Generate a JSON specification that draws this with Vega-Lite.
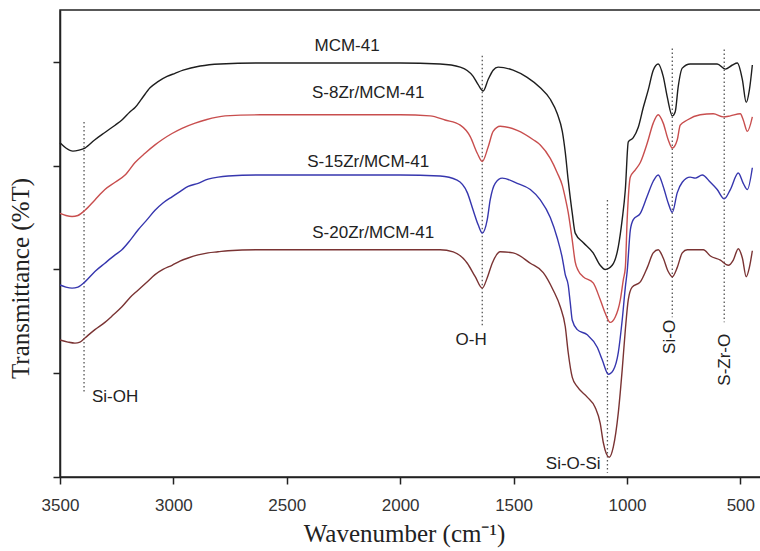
{
  "$schema": "https://vega.github.io/schema/vega-lite/v6.json",
  "width": 703,
  "height": 467,
  "autosize": "none",
  "padding": {"left": 60, "top": 10, "right": 0, "bottom": 74},
  "background": "white",
  "config": {
    "view": {"stroke": "#222", "strokeWidth": 1.5},
    "axis": {"grid": false, "domainColor": "#222", "domainWidth": 1.5, "tickColor": "#222", "tickWidth": 1.5, "tickSize": 7, "labelFont": "Liberation Sans", "labelFontSize": 17, "labelColor": "#333", "titleFont": "Liberation Serif", "titleFontSize": 25, "titleFontWeight": "normal", "titleColor": "#222"}
  },
  "datasets": {
    "spec": [
      {"s":"MCM-41","w":3500,"t":3.22},{"s":"MCM-41","w":3474,"t":3.17},{"s":"MCM-41","w":3443,"t":3.14},{"s":"MCM-41","w":3416,"t":3.15},{"s":"MCM-41","w":3390,"t":3.17},{"s":"MCM-41","w":3346,"t":3.25},{"s":"MCM-41","w":3302,"t":3.32},{"s":"MCM-41","w":3257,"t":3.39},{"s":"MCM-41","w":3227,"t":3.44},{"s":"MCM-41","w":3191,"t":3.52},{"s":"MCM-41","w":3169,"t":3.56},{"s":"MCM-41","w":3138,"t":3.65},{"s":"MCM-41","w":3103,"t":3.75},{"s":"MCM-41","w":3068,"t":3.81},{"s":"MCM-41","w":3028,"t":3.86},{"s":"MCM-41","w":2993,"t":3.89},{"s":"MCM-41","w":2957,"t":3.92},{"s":"MCM-41","w":2882,"t":3.96},{"s":"MCM-41","w":2794,"t":3.98},{"s":"MCM-41","w":2618,"t":3.99},{"s":"MCM-41","w":2441,"t":3.99},{"s":"MCM-41","w":2221,"t":3.99},{"s":"MCM-41","w":2000,"t":3.99},{"s":"MCM-41","w":1824,"t":3.98},{"s":"MCM-41","w":1735,"t":3.95},{"s":"MCM-41","w":1678,"t":3.86},{"s":"MCM-41","w":1656,"t":3.78},{"s":"MCM-41","w":1634,"t":3.72},{"s":"MCM-41","w":1612,"t":3.83},{"s":"MCM-41","w":1590,"t":3.92},{"s":"MCM-41","w":1568,"t":3.95},{"s":"MCM-41","w":1502,"t":3.92},{"s":"MCM-41","w":1440,"t":3.85},{"s":"MCM-41","w":1382,"t":3.75},{"s":"MCM-41","w":1338,"t":3.64},{"s":"MCM-41","w":1307,"t":3.5},{"s":"MCM-41","w":1285,"t":3.33},{"s":"MCM-41","w":1272,"t":3.13},{"s":"MCM-41","w":1259,"t":2.86},{"s":"MCM-41","w":1241,"t":2.54},{"s":"MCM-41","w":1228,"t":2.35},{"s":"MCM-41","w":1193,"t":2.26},{"s":"MCM-41","w":1149,"t":2.16},{"s":"MCM-41","w":1118,"t":2.04},{"s":"MCM-41","w":1096,"t":2.0},{"s":"MCM-41","w":1065,"t":2.04},{"s":"MCM-41","w":1038,"t":2.22},{"s":"MCM-41","w":1021,"t":2.48},{"s":"MCM-41","w":1007,"t":2.77},{"s":"MCM-41","w":994,"t":3.23},{"s":"MCM-41","w":972,"t":3.27},{"s":"MCM-41","w":950,"t":3.37},{"s":"MCM-41","w":928,"t":3.56},{"s":"MCM-41","w":906,"t":3.73},{"s":"MCM-41","w":884,"t":3.92},{"s":"MCM-41","w":862,"t":3.98},{"s":"MCM-41","w":840,"t":3.86},{"s":"MCM-41","w":822,"t":3.66},{"s":"MCM-41","w":800,"t":3.48},{"s":"MCM-41","w":787,"t":3.52},{"s":"MCM-41","w":774,"t":3.76},{"s":"MCM-41","w":756,"t":3.94},{"s":"MCM-41","w":721,"t":3.98},{"s":"MCM-41","w":602,"t":3.98},{"s":"MCM-41","w":566,"t":3.93},{"s":"MCM-41","w":535,"t":3.97},{"s":"MCM-41","w":513,"t":3.99},{"s":"MCM-41","w":491,"t":3.83},{"s":"MCM-41","w":474,"t":3.61},{"s":"MCM-41","w":460,"t":3.73},{"s":"MCM-41","w":447,"t":3.97},

      {"s":"S-8Zr","w":3500,"t":2.54},{"s":"S-8Zr","w":3474,"t":2.52},{"s":"S-8Zr","w":3447,"t":2.51},{"s":"S-8Zr","w":3421,"t":2.52},{"s":"S-8Zr","w":3390,"t":2.57},{"s":"S-8Zr","w":3346,"t":2.67},{"s":"S-8Zr","w":3302,"t":2.77},{"s":"S-8Zr","w":3257,"t":2.84},{"s":"S-8Zr","w":3213,"t":2.91},{"s":"S-8Zr","w":3169,"t":3.03},{"s":"S-8Zr","w":3125,"t":3.12},{"s":"S-8Zr","w":3081,"t":3.2},{"s":"S-8Zr","w":3050,"t":3.25},{"s":"S-8Zr","w":3006,"t":3.31},{"s":"S-8Zr","w":2962,"t":3.36},{"s":"S-8Zr","w":2904,"t":3.41},{"s":"S-8Zr","w":2860,"t":3.44},{"s":"S-8Zr","w":2772,"t":3.48},{"s":"S-8Zr","w":2618,"t":3.49},{"s":"S-8Zr","w":2441,"t":3.49},{"s":"S-8Zr","w":2000,"t":3.49},{"s":"S-8Zr","w":1868,"t":3.48},{"s":"S-8Zr","w":1802,"t":3.44},{"s":"S-8Zr","w":1735,"t":3.39},{"s":"S-8Zr","w":1691,"t":3.28},{"s":"S-8Zr","w":1660,"t":3.12},{"s":"S-8Zr","w":1638,"t":3.04},{"s":"S-8Zr","w":1612,"t":3.18},{"s":"S-8Zr","w":1590,"t":3.33},{"s":"S-8Zr","w":1559,"t":3.38},{"s":"S-8Zr","w":1484,"t":3.34},{"s":"S-8Zr","w":1413,"t":3.25},{"s":"S-8Zr","w":1382,"t":3.2},{"s":"S-8Zr","w":1338,"t":3.07},{"s":"S-8Zr","w":1307,"t":2.93},{"s":"S-8Zr","w":1285,"t":2.81},{"s":"S-8Zr","w":1272,"t":2.69},{"s":"S-8Zr","w":1259,"t":2.55},{"s":"S-8Zr","w":1241,"t":2.28},{"s":"S-8Zr","w":1228,"t":2.07},{"s":"S-8Zr","w":1215,"t":1.99},{"s":"S-8Zr","w":1193,"t":1.93},{"s":"S-8Zr","w":1149,"t":1.87},{"s":"S-8Zr","w":1118,"t":1.71},{"s":"S-8Zr","w":1096,"t":1.58},{"s":"S-8Zr","w":1074,"t":1.49},{"s":"S-8Zr","w":1052,"t":1.54},{"s":"S-8Zr","w":1029,"t":1.71},{"s":"S-8Zr","w":1016,"t":1.9},{"s":"S-8Zr","w":1007,"t":2.02},{"s":"S-8Zr","w":999,"t":2.48},{"s":"S-8Zr","w":985,"t":2.89},{"s":"S-8Zr","w":963,"t":2.96},{"s":"S-8Zr","w":941,"t":3.03},{"s":"S-8Zr","w":910,"t":3.22},{"s":"S-8Zr","w":884,"t":3.41},{"s":"S-8Zr","w":862,"t":3.49},{"s":"S-8Zr","w":840,"t":3.41},{"s":"S-8Zr","w":818,"t":3.25},{"s":"S-8Zr","w":800,"t":3.17},{"s":"S-8Zr","w":778,"t":3.25},{"s":"S-8Zr","w":765,"t":3.39},{"s":"S-8Zr","w":734,"t":3.44},{"s":"S-8Zr","w":677,"t":3.49},{"s":"S-8Zr","w":619,"t":3.5},{"s":"S-8Zr","w":575,"t":3.47},{"s":"S-8Zr","w":544,"t":3.48},{"s":"S-8Zr","w":500,"t":3.5},{"s":"S-8Zr","w":487,"t":3.44},{"s":"S-8Zr","w":469,"t":3.33},{"s":"S-8Zr","w":447,"t":3.47},

      {"s":"S-15Zr","w":3500,"t":1.85},{"s":"S-15Zr","w":3474,"t":1.83},{"s":"S-15Zr","w":3447,"t":1.82},{"s":"S-15Zr","w":3421,"t":1.83},{"s":"S-15Zr","w":3390,"t":1.88},{"s":"S-15Zr","w":3346,"t":1.98},{"s":"S-15Zr","w":3302,"t":2.06},{"s":"S-15Zr","w":3257,"t":2.14},{"s":"S-15Zr","w":3227,"t":2.19},{"s":"S-15Zr","w":3191,"t":2.28},{"s":"S-15Zr","w":3156,"t":2.38},{"s":"S-15Zr","w":3116,"t":2.48},{"s":"S-15Zr","w":3081,"t":2.57},{"s":"S-15Zr","w":3046,"t":2.64},{"s":"S-15Zr","w":3006,"t":2.7},{"s":"S-15Zr","w":2971,"t":2.75},{"s":"S-15Zr","w":2935,"t":2.8},{"s":"S-15Zr","w":2891,"t":2.83},{"s":"S-15Zr","w":2847,"t":2.87},{"s":"S-15Zr","w":2803,"t":2.89},{"s":"S-15Zr","w":2759,"t":2.9},{"s":"S-15Zr","w":2618,"t":2.91},{"s":"S-15Zr","w":2000,"t":2.91},{"s":"S-15Zr","w":1824,"t":2.9},{"s":"S-15Zr","w":1749,"t":2.86},{"s":"S-15Zr","w":1704,"t":2.74},{"s":"S-15Zr","w":1678,"t":2.57},{"s":"S-15Zr","w":1656,"t":2.43},{"s":"S-15Zr","w":1638,"t":2.35},{"s":"S-15Zr","w":1616,"t":2.48},{"s":"S-15Zr","w":1603,"t":2.67},{"s":"S-15Zr","w":1581,"t":2.83},{"s":"S-15Zr","w":1550,"t":2.88},{"s":"S-15Zr","w":1484,"t":2.83},{"s":"S-15Zr","w":1426,"t":2.77},{"s":"S-15Zr","w":1382,"t":2.67},{"s":"S-15Zr","w":1338,"t":2.5},{"s":"S-15Zr","w":1307,"t":2.3},{"s":"S-15Zr","w":1285,"t":2.11},{"s":"S-15Zr","w":1272,"t":1.95},{"s":"S-15Zr","w":1259,"t":1.85},{"s":"S-15Zr","w":1250,"t":1.68},{"s":"S-15Zr","w":1241,"t":1.51},{"s":"S-15Zr","w":1219,"t":1.42},{"s":"S-15Zr","w":1175,"t":1.37},{"s":"S-15Zr","w":1131,"t":1.25},{"s":"S-15Zr","w":1109,"t":1.13},{"s":"S-15Zr","w":1082,"t":0.99},{"s":"S-15Zr","w":1060,"t":1.03},{"s":"S-15Zr","w":1038,"t":1.2},{"s":"S-15Zr","w":1021,"t":1.51},{"s":"S-15Zr","w":1007,"t":1.83},{"s":"S-15Zr","w":999,"t":1.98},{"s":"S-15Zr","w":985,"t":2.38},{"s":"S-15Zr","w":972,"t":2.48},{"s":"S-15Zr","w":941,"t":2.54},{"s":"S-15Zr","w":910,"t":2.71},{"s":"S-15Zr","w":884,"t":2.85},{"s":"S-15Zr","w":862,"t":2.91},{"s":"S-15Zr","w":840,"t":2.8},{"s":"S-15Zr","w":818,"t":2.64},{"s":"S-15Zr","w":800,"t":2.55},{"s":"S-15Zr","w":778,"t":2.74},{"s":"S-15Zr","w":756,"t":2.84},{"s":"S-15Zr","w":721,"t":2.89},{"s":"S-15Zr","w":699,"t":2.88},{"s":"S-15Zr","w":668,"t":2.91},{"s":"S-15Zr","w":632,"t":2.84},{"s":"S-15Zr","w":602,"t":2.77},{"s":"S-15Zr","w":571,"t":2.68},{"s":"S-15Zr","w":544,"t":2.77},{"s":"S-15Zr","w":509,"t":2.93},{"s":"S-15Zr","w":487,"t":2.83},{"s":"S-15Zr","w":469,"t":2.77},{"s":"S-15Zr","w":447,"t":2.98},

      {"s":"S-20Zr","w":3500,"t":1.32},{"s":"S-20Zr","w":3465,"t":1.3},{"s":"S-20Zr","w":3434,"t":1.29},{"s":"S-20Zr","w":3412,"t":1.3},{"s":"S-20Zr","w":3390,"t":1.34},{"s":"S-20Zr","w":3346,"t":1.42},{"s":"S-20Zr","w":3302,"t":1.49},{"s":"S-20Zr","w":3266,"t":1.56},{"s":"S-20Zr","w":3227,"t":1.64},{"s":"S-20Zr","w":3191,"t":1.73},{"s":"S-20Zr","w":3156,"t":1.8},{"s":"S-20Zr","w":3116,"t":1.88},{"s":"S-20Zr","w":3081,"t":1.95},{"s":"S-20Zr","w":3046,"t":2.0},{"s":"S-20Zr","w":3006,"t":2.04},{"s":"S-20Zr","w":2971,"t":2.08},{"s":"S-20Zr","w":2935,"t":2.11},{"s":"S-20Zr","w":2891,"t":2.14},{"s":"S-20Zr","w":2847,"t":2.16},{"s":"S-20Zr","w":2803,"t":2.17},{"s":"S-20Zr","w":2759,"t":2.18},{"s":"S-20Zr","w":2618,"t":2.19},{"s":"S-20Zr","w":1824,"t":2.19},{"s":"S-20Zr","w":1766,"t":2.17},{"s":"S-20Zr","w":1704,"t":2.06},{"s":"S-20Zr","w":1669,"t":1.93},{"s":"S-20Zr","w":1638,"t":1.82},{"s":"S-20Zr","w":1616,"t":1.92},{"s":"S-20Zr","w":1594,"t":2.06},{"s":"S-20Zr","w":1559,"t":2.17},{"s":"S-20Zr","w":1502,"t":2.16},{"s":"S-20Zr","w":1426,"t":2.06},{"s":"S-20Zr","w":1369,"t":1.97},{"s":"S-20Zr","w":1325,"t":1.8},{"s":"S-20Zr","w":1294,"t":1.64},{"s":"S-20Zr","w":1272,"t":1.45},{"s":"S-20Zr","w":1259,"t":1.2},{"s":"S-20Zr","w":1241,"t":0.96},{"s":"S-20Zr","w":1219,"t":0.87},{"s":"S-20Zr","w":1175,"t":0.77},{"s":"S-20Zr","w":1140,"t":0.67},{"s":"S-20Zr","w":1118,"t":0.52},{"s":"S-20Zr","w":1104,"t":0.33},{"s":"S-20Zr","w":1078,"t":0.19},{"s":"S-20Zr","w":1060,"t":0.29},{"s":"S-20Zr","w":1038,"t":0.62},{"s":"S-20Zr","w":1021,"t":1.03},{"s":"S-20Zr","w":1007,"t":1.42},{"s":"S-20Zr","w":994,"t":1.71},{"s":"S-20Zr","w":977,"t":1.83},{"s":"S-20Zr","w":941,"t":1.88},{"s":"S-20Zr","w":910,"t":2.02},{"s":"S-20Zr","w":884,"t":2.16},{"s":"S-20Zr","w":862,"t":2.19},{"s":"S-20Zr","w":840,"t":2.11},{"s":"S-20Zr","w":818,"t":1.98},{"s":"S-20Zr","w":800,"t":1.93},{"s":"S-20Zr","w":778,"t":2.02},{"s":"S-20Zr","w":756,"t":2.16},{"s":"S-20Zr","w":734,"t":2.19},{"s":"S-20Zr","w":663,"t":2.19},{"s":"S-20Zr","w":632,"t":2.13},{"s":"S-20Zr","w":588,"t":2.09},{"s":"S-20Zr","w":553,"t":2.04},{"s":"S-20Zr","w":531,"t":2.09},{"s":"S-20Zr","w":509,"t":2.2},{"s":"S-20Zr","w":491,"t":2.11},{"s":"S-20Zr","w":474,"t":1.93},{"s":"S-20Zr","w":460,"t":2.02},{"s":"S-20Zr","w":447,"t":2.18}
    ],
    "bands": [
      {"band":"Si-OH","w":3394,"t1":3.42,"t2":0.81},
      {"band":"O-H","w":1638,"t1":4.06,"t2":1.45},
      {"band":"Si-O-Si","w":1086,"t1":2.67,"t2":0.04},
      {"band":"Si-O","w":800,"t1":4.13,"t2":1.54},
      {"band":"S-Zr-O","w":571,"t1":4.12,"t2":1.49}
    ],
    "curveLabels": [
      {"label":"MCM-41","w":2234,"t":4.15},
      {"label":"S-8Zr/MCM-41","w":2141,"t":3.70},
      {"label":"S-15Zr/MCM-41","w":2141,"t":3.04},
      {"label":"S-20Zr/MCM-41","w":2119,"t":2.35}
    ],
    "bandLabels": [
      {"label":"O-H","w":1687,"t":1.32},
      {"label":"Si-O-Si","w":1237,"t":0.13}
    ],
    "leftLabels": [
      {"label":"Si-OH","w":3359,"t":0.77}
    ],
    "vertLabels": [
      {"label":"Si-O","w":809,"t":1.35},
      {"label":"S-Zr-O","w":566,"t":1.13}
    ]
  },
  "layer": [
    {
      "data": {"name": "bands"},
      "mark": {"type": "rule", "color": "#555", "strokeWidth": 1.3, "strokeDash": [1.5, 2.5]},
      "encoding": {
        "x": {"field": "w", "type": "quantitative", "scale": {"domain": [400, 3500], "reverse": true, "nice": false, "zero": false},
              "axis": {"values": [3500, 3000, 2500, 2000, 1500, 1000, 500], "format": "d", "labelFlush": false, "labelPadding": 13, "title": "Wavenumber (cm⁻¹)", "titlePadding": 8, "titleX": 344}},
        "y": {"field": "t1", "type": "quantitative", "scale": {"domain": [0, 4.5], "nice": false, "zero": false},
              "axis": {"values": [0, 1, 2, 3, 4], "labels": false, "title": "Transmittance (%T)", "titlePadding": 19, "titleY": 268}},
        "y2": {"field": "t2"}
      }
    },
    {
      "data": {"name": "spec"},
      "mark": {"type": "line", "strokeWidth": 1.4, "interpolate": "monotone"},
      "encoding": {
        "x": {"field": "w", "type": "quantitative"},
        "y": {"field": "t", "type": "quantitative"},
        "color": {"field": "s", "type": "nominal", "legend": null,
                  "scale": {"domain": ["MCM-41", "S-8Zr", "S-15Zr", "S-20Zr"], "range": ["#1e1e1e", "#c84e4e", "#3636ae", "#7a3333"]}},
        "detail": {"field": "s"}
      }
    },
    {
      "data": {"name": "curveLabels"},
      "mark": {"type": "text", "font": "Liberation Sans", "fontSize": 17, "color": "#222", "align": "center", "baseline": "middle"},
      "encoding": {
        "x": {"field": "w", "type": "quantitative"},
        "y": {"field": "t", "type": "quantitative"},
        "text": {"field": "label"}
      }
    },
    {
      "data": {"name": "bandLabels"},
      "mark": {"type": "text", "font": "Liberation Sans", "fontSize": 17, "color": "#222", "align": "center", "baseline": "middle"},
      "encoding": {
        "x": {"field": "w", "type": "quantitative"},
        "y": {"field": "t", "type": "quantitative"},
        "text": {"field": "label"}
      }
    },
    {
      "data": {"name": "leftLabels"},
      "mark": {"type": "text", "font": "Liberation Sans", "fontSize": 17, "color": "#222", "align": "left", "baseline": "middle"},
      "encoding": {
        "x": {"field": "w", "type": "quantitative"},
        "y": {"field": "t", "type": "quantitative"},
        "text": {"field": "label"}
      }
    },
    {
      "data": {"name": "vertLabels"},
      "mark": {"type": "text", "font": "Liberation Sans", "fontSize": 17, "color": "#222", "align": "center", "baseline": "middle", "angle": 270},
      "encoding": {
        "x": {"field": "w", "type": "quantitative"},
        "y": {"field": "t", "type": "quantitative"},
        "text": {"field": "label"}
      }
    }
  ]
}
